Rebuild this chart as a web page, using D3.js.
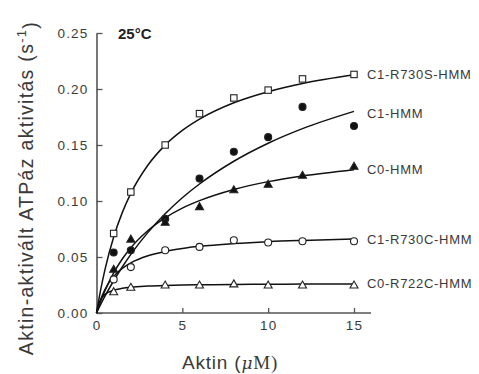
<!DOCTYPE html>
<html><head><meta charset="utf-8">
<script src="https://cdn.jsdelivr.net/npm/d3@7"></script>
<style>
html,body{margin:0;padding:0;background:#fff;}
svg{display:block;}
text{font-family:"Liberation Sans",Arial,sans-serif;}
</style></head>
<body>
<svg id="c" width="479" height="374"></svg>
<script>
// Data
const actin = [1, 2, 4, 6, 8, 10, 12, 15];
const seriesNames = ["C1-R730S-HMM", "C1-HMM", "C0-HMM", "C1-R730C-HMM", "C0-R722C-HMM"];
const c1R730S = [0.071, 0.108, 0.150, 0.178, 0.192, 0.199, 0.209, 0.213];
const c1HMM   = [0.054, 0.056, 0.084, 0.120, 0.144, 0.157, 0.184, 0.167];
const c0HMM   = [0.039, 0.066, 0.081, 0.095, 0.110, 0.115, 0.123, 0.131];
const c1R730C = [0.030, 0.041, 0.056, 0.059, 0.065, 0.063, 0.064, 0.064];
const c0R722C = [0.019, 0.023, 0.025, 0.025, 0.026, 0.025, 0.025, 0.025];
// fitted curves
const curveX = [0, 0.25, 0.5, 1, 1.5, 2, 3, 4, 5, 6, 8, 10, 12, 15];
const fitC1R730S = [0, 0.0213, 0.0392, 0.0678, 0.0896, 0.1068, 0.1321, 0.1499, 0.1630, 0.1731, 0.1877, 0.1976, 0.2049, 0.2127];
const fitC1HMM   = [0, 0.0078, 0.0152, 0.0288, 0.0411, 0.0524, 0.0720, 0.0886, 0.1029, 0.1152, 0.1355, 0.1516, 0.1646, 0.1800];
const fitC0HMM   = [0, 0.0108, 0.0202, 0.0358, 0.0482, 0.0583, 0.0737, 0.0850, 0.0936, 0.1003, 0.1103, 0.1173, 0.1224, 0.1280];
const fitC1R730C = [0, 0.0125, 0.0212, 0.0327, 0.0399, 0.0448, 0.0511, 0.0550, 0.0576, 0.0595, 0.0620, 0.0637, 0.0648, 0.0660];
const fitC0R722C = [0, 0.0120, 0.0166, 0.0204, 0.0220, 0.0230, 0.0240, 0.0246, 0.0250, 0.0252, 0.0255, 0.0257, 0.0258, 0.0260];
const markers = ["squareOpen", "circleFilled", "triangleFilled", "circleOpen", "triangleOpen"];
const xTicks = [0, 5, 10, 15];
const yTicks = [0, 0.05, 0.10, 0.15, 0.20, 0.25];

const pts = [c1R730S, c1HMM, c0HMM, c1R730C, c0R722C];
const fits = [fitC1R730S, fitC1HMM, fitC0HMM, fitC1R730C, fitC0R722C];

const svg = d3.select("#c");
const x = d3.scaleLinear().domain([0, 15]).range([96.5, 354]);
const y = d3.scaleLinear().domain([0, 0.25]).range([313, 33]);
const axisColor = "#555";
const textColor = "#3a3a3a";

// axes
const gx = svg.append("g").attr("transform", "translate(0,313)")
  .call(d3.axisBottom(x).tickValues(xTicks).tickSizeInner(-5).tickSizeOuter(0).tickPadding(9).tickFormat(d3.format("d")));
gx.select(".domain").attr("d", `M${x(0)},0H371`);
const gy = svg.append("g").attr("transform", "translate(96.5,0)")
  .call(d3.axisLeft(y).tickValues(yTicks).tickSizeInner(-6).tickSizeOuter(0).tickPadding(8).tickFormat(d3.format(".2f")));
[gx, gy].forEach(g => {
  g.select(".domain").attr("stroke", axisColor).attr("stroke-width", 1.6);
  g.selectAll(".tick line").attr("stroke", axisColor).attr("stroke-width", 1.3);
  g.selectAll(".tick text").attr("fill", textColor).style("font-size", "13.5px").style("letter-spacing", "1.2px")
    .style("font-family", "'Liberation Sans',Arial,sans-serif");
});
gy.selectAll(".tick text").attr("dy", "0.35em");
gx.selectAll(".tick text").attr("dy", "0.6em");

// curves
const line = d3.line().x((d, i) => x(curveX[i])).y(d => y(d)).curve(d3.curveMonotoneX);
fits.forEach(f => {
  svg.append("path").attr("d", line(f)).attr("fill", "none").attr("stroke", "#111").attr("stroke-width", 1.5);
});

// markers
function drawMarker(g, type, cx, cy) {
  const s = 3.2;
  if (type.startsWith("square")) {
    g.append("rect").attr("x", cx - s).attr("y", cy - s).attr("width", 2 * s).attr("height", 2 * s)
      .attr("fill", "#fff").attr("stroke", "#222").attr("stroke-width", 1.1);
  } else if (type.startsWith("circle")) {
    g.append("circle").attr("cx", cx).attr("cy", cy).attr("r", 3.5)
      .attr("fill", type.endsWith("Filled") ? "#111" : "#fff").attr("stroke", "#222").attr("stroke-width", 1.1);
  } else {
    const h = 4.0;
    g.append("path").attr("d", `M${cx},${cy - h}L${cx + h},${cy + h * 0.75}L${cx - h},${cy + h * 0.75}Z`)
      .attr("fill", type.endsWith("Filled") ? "#111" : "#fff").attr("stroke", "#222").attr("stroke-width", 1.1);
  }
}
const mg = svg.append("g");
pts.forEach((vals, si) => {
  vals.forEach((v, i) => drawMarker(mg, markers[si], x(actin[i]), y(v)));
});

// series labels
const labelDy = [0, 2, 0, 0, 0];
seriesNames.forEach((n, i) => {
  svg.append("text").attr("x", 367).attr("y", y(fits[i][fits[i].length - 1]) + labelDy[i]).attr("dy", "0.35em")
    .attr("fill", textColor).style("font-size", "13px").style("letter-spacing", "0.7px").text(n);
});

// temperature
svg.append("text").attr("x", 118).attr("y", 39).attr("fill", "#222").style("font-size", "15px")
  .style("font-weight", "bold").text("25°C");

// y label
const yl = svg.append("text").attr("transform", "translate(33,188) rotate(-90)").attr("text-anchor", "middle")
  .attr("fill", textColor).style("font-size", "19.5px").style("letter-spacing", "1.3px");
yl.append("tspan").text("Aktin-aktivált ATPáz aktivitás (s");
yl.append("tspan").attr("dy", "-0.55em").style("font-size", "13px").text("-1");
yl.append("tspan").attr("dy", "0.55em").text(")");

// x label
const xl = svg.append("text").attr("x", 230).attr("y", 369).attr("text-anchor", "middle")
  .attr("fill", textColor).style("font-size", "19px").style("letter-spacing", "0.8px");
xl.append("tspan").text("Aktin (");
xl.append("tspan").style("font-style", "italic").style("font-family", "'DejaVu Serif',serif").style("font-size", "17px").text("μ");
xl.append("tspan").style("font-family", "'Liberation Serif',serif").text("M)");
</script>
</body></html>
